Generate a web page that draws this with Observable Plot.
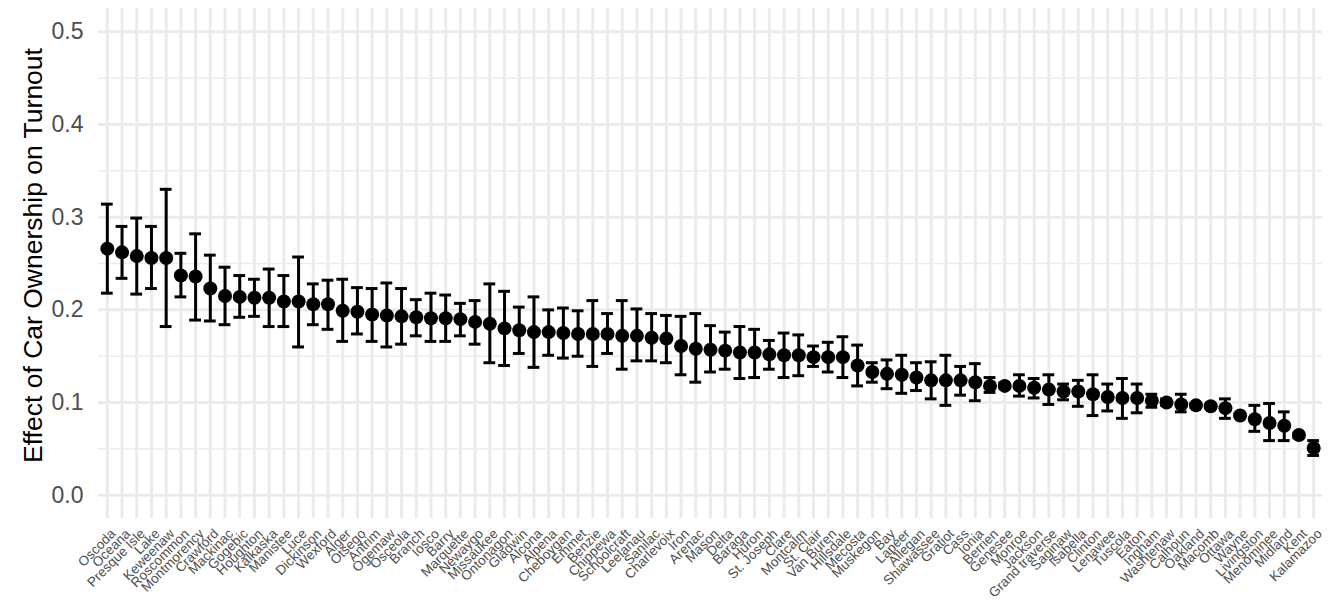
<!DOCTYPE html>
<html><head><meta charset="utf-8">
<script src="https://cdn.jsdelivr.net/npm/d3@7"></script>
<script src="https://cdn.jsdelivr.net/npm/@observablehq/plot@0.6"></script>
<style>
body{margin:0;background:#fff;}
#chart svg{display:block}
</style></head><body><div id="chart"></div>
<script>
const counties = ["Oscoda","Oceana","Presque Isle","Lake","Keweenaw","Roscommon","Montmorency","Crawford","Mackinac","Gogebic","Houghton","Kalkaska","Manistee","Luce","Dickinson","Wexford","Alger","Otsego","Antrim","Ogemaw","Osceola","Branch","Iosco","Barry","Marquette","Newaygo","Missaukee","Ontonagon","Gladwin","Alcona","Alpena","Cheboygan","Emmet","Benzie","Chippewa","Schoolcraft","Leelanau","Sanilac","Charlevoix","Iron","Arenac","Mason","Delta","Baraga","Huron","St. Joseph","Clare","Montcalm","St. Clair","Van Buren","Hillsdale","Mecosta","Muskegon","Bay","Lapeer","Allegan","Shiawassee","Gratiot","Cass","Ionia","Berrien","Genesee","Monroe","Jackson","Grand traverse","Saginaw","Isabella","Clinton","Lenawee","Tuscola","Eaton","Ingham","Washtenaw","Calhoun","Oakland","Macomb","Ottawa","Wayne","Livingston","Menominee","Midland","Kent","Kalamazoo"];
const estimates = [0.266,0.262,0.258,0.256,0.256,0.237,0.236,0.223,0.215,0.214,0.213,0.213,0.209,0.209,0.206,0.206,0.199,0.198,0.195,0.194,0.193,0.192,0.191,0.191,0.190,0.187,0.185,0.180,0.178,0.176,0.176,0.175,0.174,0.174,0.174,0.172,0.172,0.170,0.169,0.161,0.158,0.157,0.156,0.154,0.154,0.152,0.151,0.151,0.149,0.149,0.149,0.140,0.133,0.131,0.130,0.127,0.124,0.124,0.124,0.122,0.118,0.118,0.118,0.116,0.114,0.112,0.112,0.109,0.106,0.105,0.105,0.102,0.100,0.098,0.097,0.096,0.094,0.086,0.082,0.078,0.075,0.065,0.051];
const lower = [0.218,0.234,0.217,0.223,0.182,0.214,0.189,0.188,0.184,0.192,0.193,0.182,0.182,0.160,0.184,0.179,0.166,0.174,0.166,0.160,0.163,0.172,0.166,0.166,0.172,0.163,0.143,0.140,0.153,0.138,0.151,0.148,0.150,0.139,0.153,0.136,0.145,0.145,0.143,0.130,0.122,0.133,0.136,0.126,0.127,0.136,0.127,0.129,0.139,0.133,0.127,0.118,0.122,0.115,0.110,0.113,0.104,0.097,0.108,0.102,0.111,0.116,0.107,0.105,0.098,0.103,0.096,0.086,0.091,0.083,0.089,0.095,0.097,0.090,0.095,0.094,0.083,0.085,0.069,0.059,0.059,0.062,0.043];
const upper = [0.314,0.290,0.299,0.290,0.330,0.261,0.282,0.259,0.246,0.237,0.233,0.244,0.237,0.257,0.228,0.232,0.233,0.224,0.223,0.229,0.223,0.211,0.218,0.216,0.207,0.210,0.228,0.220,0.203,0.214,0.200,0.202,0.199,0.210,0.196,0.210,0.201,0.196,0.194,0.193,0.196,0.183,0.176,0.182,0.179,0.167,0.175,0.173,0.161,0.165,0.171,0.162,0.143,0.146,0.151,0.143,0.144,0.151,0.139,0.142,0.127,0.121,0.130,0.126,0.130,0.120,0.124,0.130,0.120,0.126,0.120,0.109,0.104,0.109,0.099,0.098,0.104,0.088,0.097,0.099,0.090,0.067,0.059];
const yMajorTicks = [0, 0.1, 0.2, 0.3, 0.4, 0.5];
const yMinorTicks = [0.05, 0.15, 0.25, 0.35, 0.45];
const yTitle = "Effect of Car Ownership on Turnout";

const data = counties.map((c, i) => ({county: c, est: estimates[i], lo: lower[i], hi: upper[i]}));
const font = "'Liberation Sans', Arial, sans-serif";
const grid = "#ebebeb";

const chart = Plot.plot({
  width: 1334, height: 603,
  marginLeft: 98, marginRight: 12, marginTop: 8, marginBottom: 85,
  style: {fontFamily: font, background: "#fff", overflow: "visible"},
  x: {type: "band", domain: counties, paddingInner: 0.2, paddingOuter: 0.2, label: null},
  y: {domain: [-0.025, 0.525], label: null},
  marks: [
    Plot.gridY(yMinorTicks, {stroke: grid, strokeOpacity: 1, strokeWidth: 1.5}),
    Plot.gridY(yMajorTicks, {stroke: grid, strokeOpacity: 1, strokeWidth: 3}),
    Plot.gridX(counties, {stroke: grid, strokeOpacity: 1, strokeWidth: 3}),
    Plot.axisY(yMajorTicks, {tickSize: 0, tickPadding: 15, tickFormat: d3.format(".1f"), fontSize: 23, color: "#4d4d4d", label: null}),
    Plot.axisX({tickRotate: -45, tickSize: 0, tickPadding: 13, dx: 6, fontSize: 13.5, color: "#4d4d4d", label: null}),
    Plot.ruleX(data, {x: "county", y1: "lo", y2: "hi", stroke: "black", strokeWidth: 3}),
    Plot.tickY(data, {x: "county", y: "lo", stroke: "black", strokeWidth: 3}),
    Plot.tickY(data, {x: "county", y: "hi", stroke: "black", strokeWidth: 3}),
    Plot.dot(data, {x: "county", y: "est", r: 7, fill: "black"}),
    Plot.text([yTitle], {text: d => d, frameAnchor: "left", textAnchor: "middle", dx: -65, dy: -8, rotate: -90, fontSize: 26.5, fill: "black"})
  ]
});
document.getElementById("chart").appendChild(chart);
</script>
</body></html>
